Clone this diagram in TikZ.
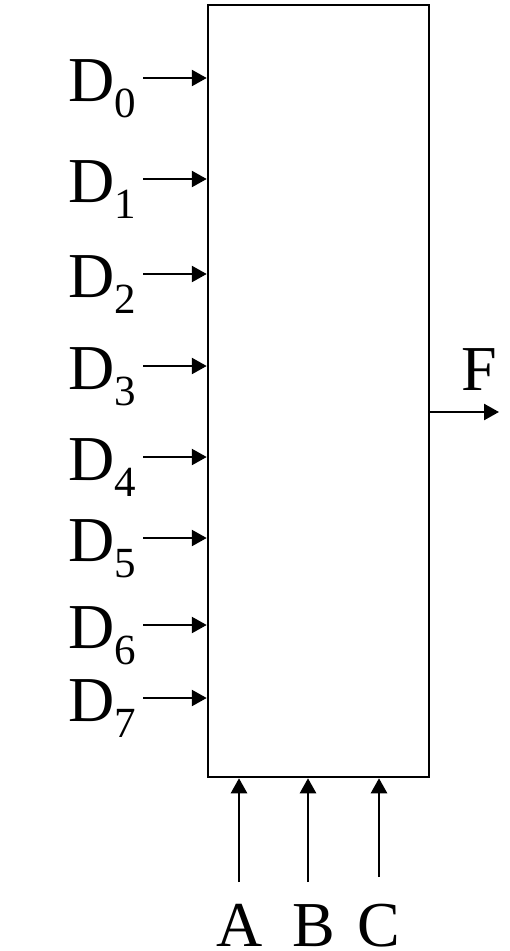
\documentclass[tikz,border=0pt]{standalone}
\usepackage{fontspec}
\setmainfont{Liberation Serif}
\usetikzlibrary{arrows.meta}
\begin{document}
\begin{tikzpicture}[x=1pt,y=-1pt,
  lbl/.style={anchor=base west,inner sep=0pt,font=\fontsize{64}{64}\selectfont},
  clbl/.style={anchor=base,inner sep=0pt,font=\fontsize{64}{64}\selectfont},
  arr/.style={line width=2.5pt,-{Triangle[length=15pt,width=16pt]}},
  boxst/.style={draw,line width=2.5pt,inner sep=0pt,minimum width=221pt,minimum height=772pt}]
\useasboundingbox (0,0) rectangle (510,951);
\node[boxst] (box) at (318.5,391) {};
\foreach \i/\y in {0/78,1/179,2/274,3/366,4/457,5/538,6/625,7/698}{
  \node[lbl] (d\i) at (68,\y+23) {D\raisebox{-16pt}{\fontsize{43}{43}\selectfont \i}};
  \coordinate (s\i) at (143,\y);
  \draw[arr] (s\i) -- (s\i -| box.west);
}
\node[lbl] (f) at (461,390) {F};
\coordinate (fs) at (box.east |- 0,412);
\coordinate (fe) at (499,412);
\draw[arr] (fs) -- (fe);
\node[clbl] (a) at (240,946) {A};
\node[clbl] (b) at (314,946) {B};
\node[clbl] (c) at (379,946) {C};
\coordinate (as) at (239,882);
\coordinate (bs) at (308,882);
\coordinate (cs) at (379,877);
\draw[arr] (as) -- (as |- box.south);
\draw[arr] (bs) -- (bs |- box.south);
\draw[arr] (cs) -- (cs |- box.south);
\end{tikzpicture}
\end{document}
